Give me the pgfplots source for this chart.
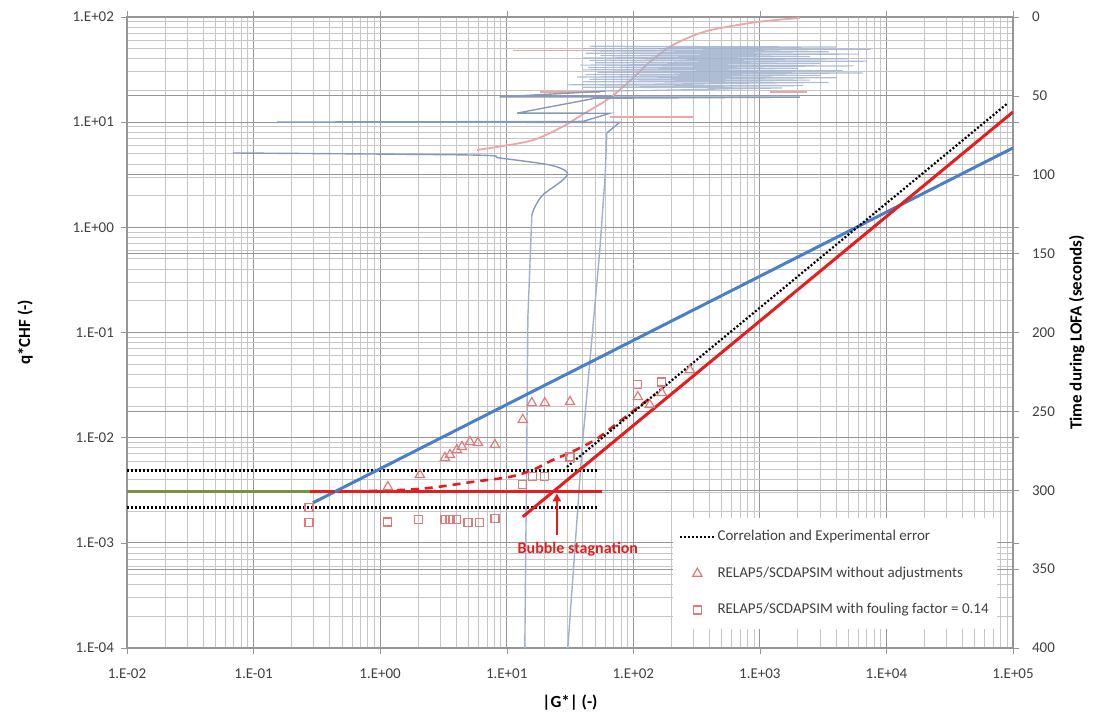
\documentclass[border=0pt]{standalone}
\usepackage{fontspec}
\setmainfont{Carlito}
\usepackage{pgfplots}
\pgfplotsset{compat=1.18}
\usetikzlibrary{arrows.meta}

\definecolor{cred}{HTML}{E41E1E}
\definecolor{cblue}{HTML}{4A7EC6}
\definecolor{cgreen}{HTML}{77933C}
\definecolor{cmark}{HTML}{E07A7A}
\definecolor{tblue}{HTML}{A0B1CC}
\definecolor{tblued}{HTML}{8799BA}
\definecolor{tpink}{HTML}{EBA6A6}
\definecolor{gmaj}{HTML}{969696}
\definecolor{gmin}{HTML}{C6C6C6}
\definecolor{ticktxt}{HTML}{404040}

\begin{document}
\begin{tikzpicture}
\useasboundingbox (-63.5pt,-35pt) rectangle (483pt,324pt);

% ---------- Axis A: main log axes, grid, ticks, labels ----------
\begin{axis}[scale only axis, width=443pt, height=315.5pt,
  xmode=log, xmin=1e-2, xmax=1e5, at={(0,0)}, anchor=south west,
  ymode=log, ymin=1e-4, ymax=1e2,
  xtick={1e-2,1e-1,1,1e1,1e2,1e3,1e4,1e5},
  xticklabels={1.E-02,1.E-01,1.E+00,1.E+01,1.E+02,1.E+03,1.E+04,1.E+05},
  ytick={1e-4,1e-3,1e-2,1e-1,1,1e1,1e2},
  yticklabels={1.E-04,1.E-03,1.E-02,1.E-01,1.E+00,1.E+01,1.E+02},
  xmajorgrids, ymajorgrids, xminorgrids, yminorgrids,
  major grid style={gmaj, line width=0.6pt},
  minor grid style={gmin, line width=0.5pt},
  axis line style={gmaj, line width=0.6pt},
  tick align=outside, major tick length=3pt, minor tick length=0pt,
  tick style={gmaj},
  ticklabel style={font=\fontsize{7.5}{9}\selectfont, text=ticktxt},
  xticklabel style={yshift=-4pt},
  xlabel={|G*| (-)}, ylabel={q*CHF (-)},
  label style={font=\fontsize{8.5}{10}\selectfont\bfseries},
  xlabel style={at={(axis description cs:0.5,-0.087)}, anchor=center},
  ylabel style={at={(axis description cs:-0.115,0.5)}, anchor=center},
]
\addplot[draw=none, forget plot] coordinates {(1,1)};
\end{axis}

% ---------- Axis B: time axis (right) ----------
\begin{axis}[scale only axis, width=443pt, height=315.5pt,
  xmode=log, xmin=1e-2, xmax=1e5, at={(0,0)}, anchor=south west,
  ymin=0, ymax=400, y dir=reverse,
  axis y line*=right, axis x line=none,
  ytick={0,50,100,150,200,250,300,350,400},
  yticklabels={0,50,100,150,200,250,300,350,400},
  ymajorgrids, major grid style={gmaj, line width=0.6pt},
  axis line style={gmaj, line width=0.6pt},
  tick align=outside, major tick length=3pt, tick style={gmaj},
  ticklabel style={font=\fontsize{7.5}{9}\selectfont, text=ticktxt},
  yticklabel style={xshift=3pt},
  ylabel={Time during LOFA (seconds)},
  label style={font=\fontsize{8.5}{10}\selectfont\bfseries},
  ylabel style={at={(axis description cs:1.072,0.5)}, anchor=center, rotate=0},
]
% pink time curve
\addplot[tpink, line width=0.9pt, smooth] coordinates {
(5.82,84.3)(15.2,78.6)(26.3,70.4)(41.5,60.9)(65.3,51.3)(99.3,38.7)(135,28.5)(206,17.7)(381,8.9)(946,3.2)(2070,0.6)};
\addplot[tpink, line width=0.6pt] coordinates {(11.2,21)(153,21)};
\addplot[tpink, line width=0.6pt] coordinates {(18.3,47.5)(54.4,47.5)};
\addplot[tpink, line width=0.6pt] coordinates {(65.5,63.4)(296,63.4)};
\addplot[tpink, line width=0.6pt] coordinates {(1200,47.5)(2350,47.5)};
% blue oscillation band and curve B
\addplot[tblue, line width=0.55pt, opacity=0.85] coordinates {
(45,18.5)(4000,19)(40,20)(7500,20.5)(48,21.5)(3500,22)(42,23)(6000,23.5)(55,24.5)(2500,25)
(40,26)(5000,26.5)(45,27.5)(7000,28)(50,29)(3000,29.5)(38,30.5)(5500,31)(44,32)(2000,32.5)
(40,33.5)(4500,34)(52,35)(6500,35.5)(42,36.5)(3000,37)(36,38)(4000,38.5)(45,39.5)(2500,40)
(40,41)(3500,41.5)(30,43)(2200,43.5)(40,44.5)(1500,45)(60,47)};
\addplot[tblued, line width=0.7pt] coordinates {
(60,47)(8.8,50.6)(2070,50.8)(50,51.5)(12.1,60.9)(65.5,61)(40,66.2)(0.153,66.6)(78,66.8)(61.8,73.5)};
\addplot[tblue, line width=0.7pt] coordinates {
(61.8,73.5)(60,100)(54.4,147.7)(39.3,274.5)(30.4,400)};
% blue curve A
\addplot[tblued, line width=0.7pt, smooth] coordinates {
(0.0687,86.2)(5.41,87.5)(8.83,89.4)(21.9,93.8)(29.9,98.3)(27.8,103.3)(19.3,112.8)(16.7,120.4)(15.8,125.5)};
\addplot[tblue, line width=0.7pt] coordinates {
(15.8,125.5)(14.7,190.2)(14.4,274.5)(13.9,400)};
\end{axis}

% ---------- Axis C: main data ----------
\begin{axis}[scale only axis, width=443pt, height=315.5pt,
  xmode=log, xmin=1e-2, xmax=1e5, at={(0,0)}, anchor=south west,
  ymode=log, ymin=1e-4, ymax=1e2, hide axis,
  legend style={at={(0.616,0.206)}, anchor=north west, draw=none, fill=white,
    font=\fontsize{7.5}{9}\selectfont, text=ticktxt, row sep=9.5pt,
    inner xsep=3pt, inner ysep=5pt, nodes={inner sep=1pt}},
  legend cell align=left,
]
% correlation (legend)
\addplot[black, line width=1.1pt, dash pattern=on 1pt off 1pt] coordinates {(1e-2,4.87e-3)(52.5,4.87e-3)};
\addlegendentry{Correlation and Experimental error}
\addplot[black, line width=1.1pt, dash pattern=on 1pt off 1pt, forget plot] coordinates {(1e-2,2.17e-3)(52.5,2.17e-3)};
% green and red horizontals
\addplot[cgreen, line width=1.5pt, forget plot] coordinates {(1e-2,3.05e-3)(0.3,3.05e-3)};
\addplot[cred, line width=1.5pt, forget plot] coordinates {(0.28,3.05e-3)(56.5,3.05e-3)};
% blue correlation line
\addplot[cblue, line width=1.5pt, forget plot] coordinates {(0.294,2.4e-3)(1e5,5.69)};
% red dashed curve
\addplot[cred, line width=1.3pt, dash pattern=on 4pt off 3pt, smooth, forget plot] coordinates {
(0.294,3.05e-3)(1.2,3.15e-3)(2.47,3.33e-3)(5.41,3.80e-3)(10.6,4.24e-3)(16.1,4.94e-3)(23.2,6.15e-3)(31.6,7.18e-3)(45.4,8.93e-3)(54.4,1.02e-2)(100,1.8e-2)(150,2.6e-2)};
% red diagonal
\addplot[cred, line width=1.5pt, forget plot] coordinates {(13.4,1.77e-3)(1e5,12.5)};
% dotted diagonal
\addplot[black, line width=1.1pt, dash pattern=on 1pt off 1pt, forget plot] coordinates {(29.9,5.27e-3)(89300,14.9)};
% triangles
\addplot[only marks, mark=triangle, mark size=2.7pt, mark options={cmark, line width=0.6pt}] coordinates {
(1.15,3.40e-3)(2.06,4.43e-3)(3.25,6.43e-3)(3.56,6.86e-3)(4.04,7.65e-3)(4.43,8.18e-3)(5.12,9.13e-3)(5.92,8.93e-3)(8.07,8.55e-3)
(13.4,1.48e-2)(15.8,2.14e-2)(20.0,2.14e-2)(31.6,2.19e-2)(108.6,2.44e-2)(135,2.05e-2)(168,2.67e-2)(280,4.4e-2)};
\addlegendentry{RELAP5/SCDAPSIM without adjustments}
% squares
\addplot[only marks, mark=square, mark size=2pt, mark options={cmark, line width=0.6pt}] coordinates {
(0.274,2.15e-3)(0.274,1.55e-3)(1.15,1.58e-3)(2.02,1.66e-3)(3.25,1.66e-3)(3.56,1.66e-3)(4.04,1.66e-3)(4.94,1.55e-3)(6.14,1.55e-3)(8.07,1.69e-3)
(13.4,3.56e-3)(16.1,4.24e-3)(20.0,4.24e-3)(31.6,6.56e-3)(108.6,3.18e-2)(168,3.39e-2)};
\addlegendentry{RELAP5/SCDAPSIM with fouling factor = 0.14}
% bubble stagnation annotation
\draw[cred, line width=1.1pt, -{Triangle[length=4pt,width=4pt]}] (axis cs:24.9,1.19e-3) -- (axis cs:24.9,2.95e-3);
\node[text=cred, font=\fontsize{8}{9}\selectfont\bfseries] at (axis cs:36.5,8.7e-4) {Bubble stagnation};
\end{axis}
\end{tikzpicture}
\end{document}
